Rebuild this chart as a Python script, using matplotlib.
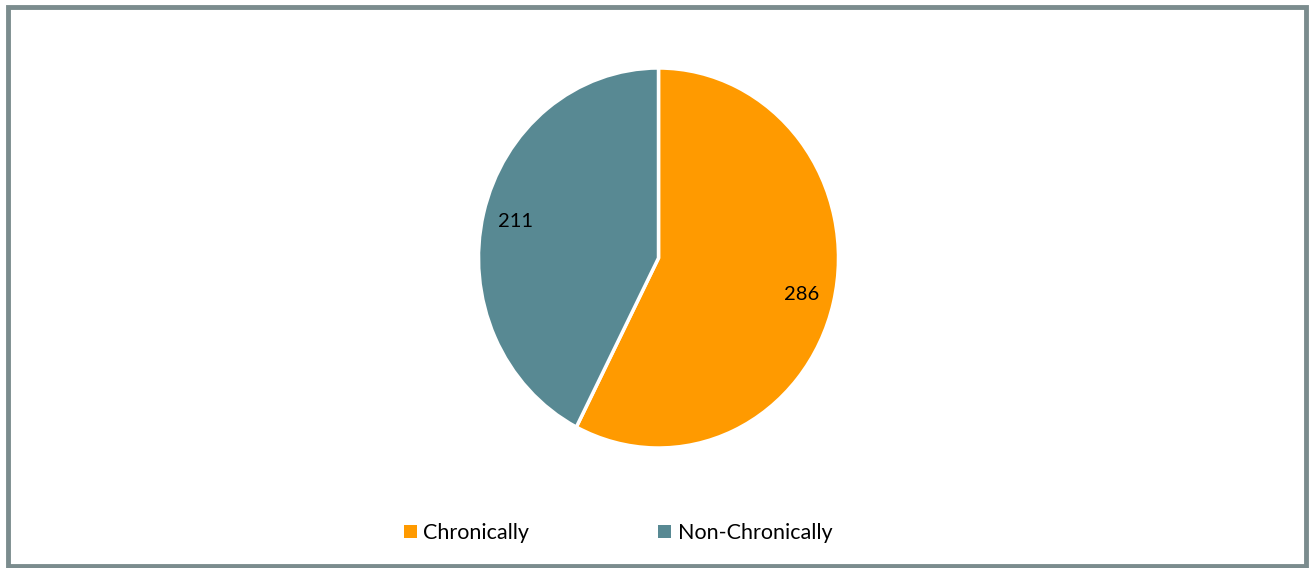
import matplotlib.pyplot as plt
from matplotlib.patches import Rectangle

plt.rcParams['font.family'] = ['Lato', 'DejaVu Sans']

categories = ['Chronically', 'Non-Chronically']
counts = [286, 211]
colors = ['#FF9A00', '#588993']

fig = plt.figure(figsize=(13.12, 5.68), dpi=100)

# outer frame
fig.patches.append(Rectangle((8 / 1312, 2 / 568), 1298 / 1312, 559 / 568,
                             transform=fig.transFigure, fill=False,
                             edgecolor='#7B8C8E', linewidth=3.5))

cx, cy, rx, ry = 658.5, 258, 180, 190
ax = fig.add_axes([(cx - rx) / 1312, (568 - cy - ry) / 568, 2 * rx / 1312, 2 * ry / 568])

wedges, texts, autotexts = ax.pie(
    counts, colors=colors, startangle=90, counterclock=False,
    autopct=lambda p: '{:.0f}'.format(p * sum(counts) / 100),
    pctdistance=0.82, radius=1,
    wedgeprops=dict(edgecolor='white', linewidth=2.5),
    textprops=dict(fontsize=14.5, color='black'))
ax.set_xlim(-1, 1)
ax.set_ylim(-1, 1)
ax.set_aspect('auto')

leg = fig.legend(wedges, categories, loc='center', bbox_to_anchor=(618 / 1312, 1 - 533 / 568),
                 ncol=2, frameon=False, fontsize=15.5, handlelength=0.6, handleheight=0.6,
                 handletextpad=0.3, columnspacing=6.0)
for h in leg.legend_handles:
    h.set_linewidth(0)

fig.savefig('out.png', dpi=100)
